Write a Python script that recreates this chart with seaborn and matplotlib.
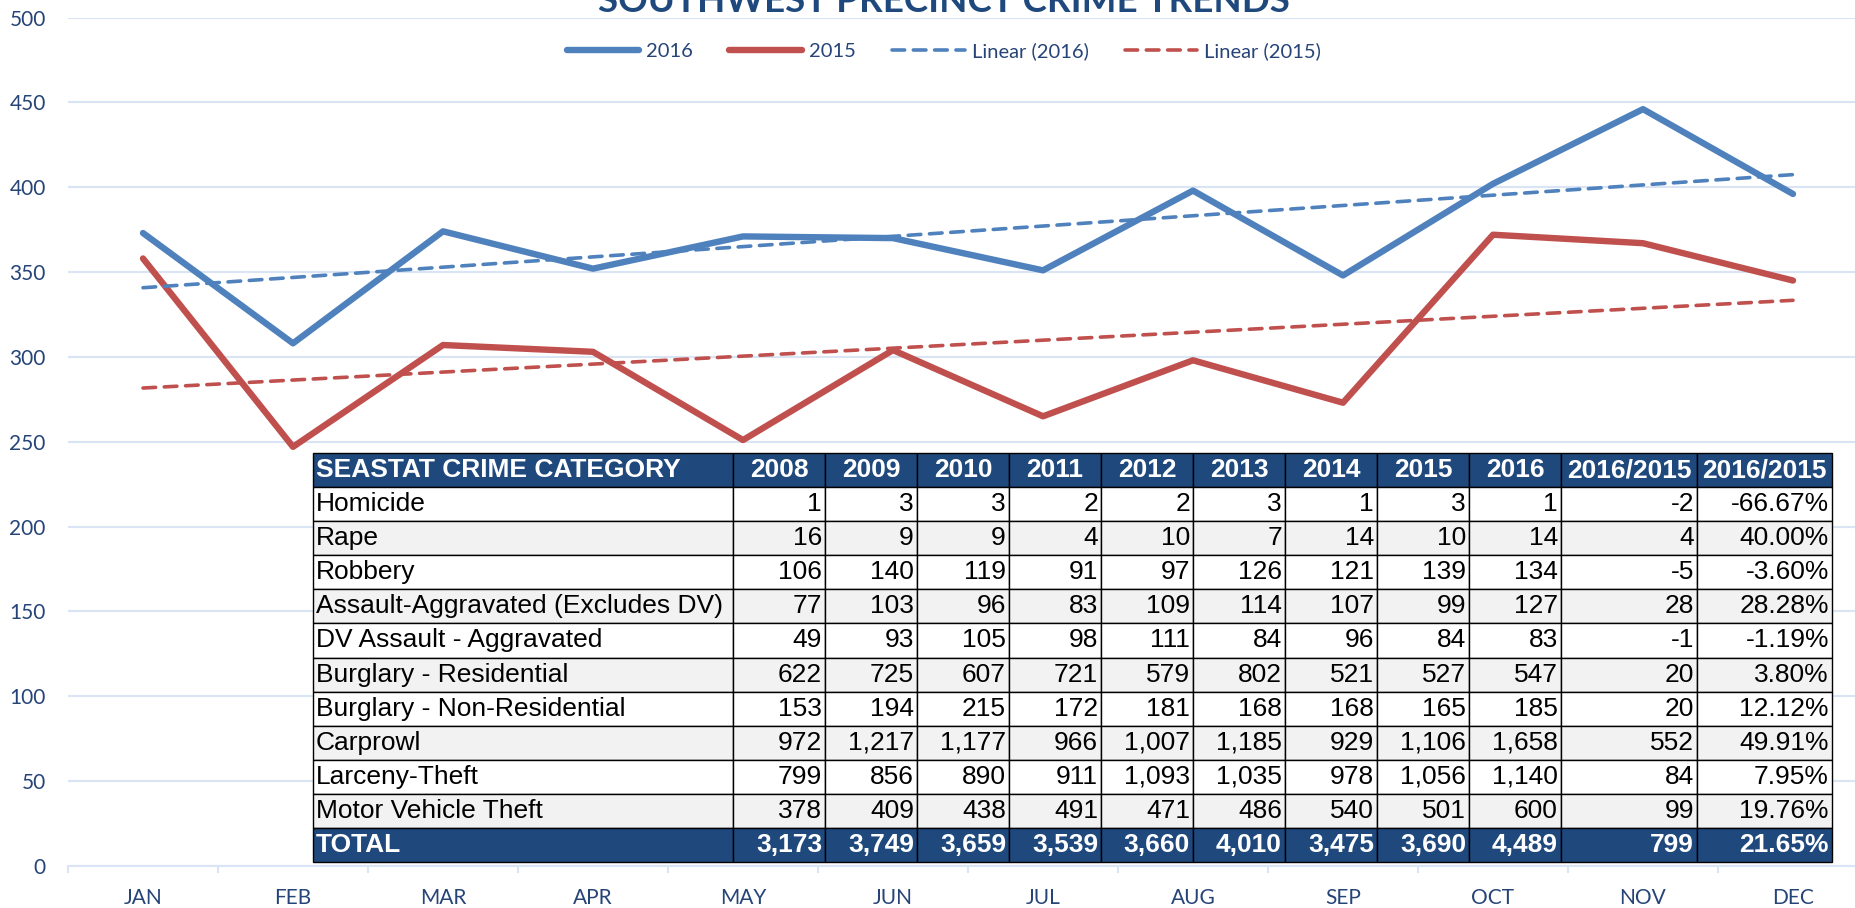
import numpy as np
import pandas as pd
import matplotlib.pyplot as plt
import seaborn as sns

# --- chart data ---
MONTHS = ["JAN", "FEB", "MAR", "APR", "MAY", "JUN", "JUL", "AUG", "SEP", "OCT", "NOV", "DEC"]
CRIMES_2016 = [373, 308, 374, 352, 371, 370, 351, 398, 348, 402, 446, 396]
CRIMES_2015 = [358, 247, 307, 303, 251, 304, 265, 298, 273, 372, 367, 345]

# --- table data ---
TABLE_YEARS = ["2008", "2009", "2010", "2011", "2012", "2013", "2014", "2015", "2016"]
TABLE_CATEGORIES = [
    "Homicide", "Rape", "Robbery", "Assault-Aggravated (Excludes DV)",
    "DV Assault - Aggravated", "Burglary - Residential", "Burglary - Non-Residential",
    "Carprowl", "Larceny-Theft", "Motor Vehicle Theft",
]
TABLE_COUNTS = [
    [1, 3, 3, 2, 2, 3, 1, 3, 1],
    [16, 9, 9, 4, 10, 7, 14, 10, 14],
    [106, 140, 119, 91, 97, 126, 121, 139, 134],
    [77, 103, 96, 83, 109, 114, 107, 99, 127],
    [49, 93, 105, 98, 111, 84, 96, 84, 83],
    [622, 725, 607, 721, 579, 802, 521, 527, 547],
    [153, 194, 215, 172, 181, 168, 168, 165, 185],
    [972, 1217, 1177, 966, 1007, 1185, 929, 1106, 1658],
    [799, 856, 890, 911, 1093, 1035, 978, 1056, 1140],
    [378, 409, 438, 491, 471, 486, 540, 501, 600],
]

BLUE = "#4F81BD"
RED = "#C0504D"
NAVY = "#1F497D"
TEXT = "#264478"
GRID = "#D9E4F5"

W, H = 1856, 908

sns.set_theme(style="white")
plt.rcParams["font.family"] = ["Lato", "DejaVu Sans"]

fig = plt.figure(figsize=(W / 100, H / 100), dpi=100)
ax = fig.add_axes([68 / W, 1 - 866 / H, 1800 / W, 848.5 / H])

x = np.arange(len(MONTHS))
sns.lineplot(x=x, y=CRIMES_2016, color=BLUE, lw=4.6, solid_capstyle="round",
             label="2016", ax=ax)
sns.lineplot(x=x, y=CRIMES_2015, color=RED, lw=4.6, solid_capstyle="round",
             label="2015", ax=ax)
sns.regplot(x=x, y=CRIMES_2016, scatter=False, ci=None, color=BLUE, label="Linear (2016)",
            line_kws=dict(lw=2.6, dashes=(3.5, 2.4), dash_capstyle="round"), ax=ax)
sns.regplot(x=x, y=CRIMES_2015, scatter=False, ci=None, color=RED, label="Linear (2015)",
            line_kws=dict(lw=2.6, dashes=(3.5, 2.4), dash_capstyle="round"), ax=ax)

ax.set_xlim(-0.5, 11.5)
ax.set_ylim(0, 500)
ax.set_yticks(range(0, 501, 50))
ax.set_xticks(x, MONTHS)
ax.set_xticks(np.arange(-0.5, 12, 1), minor=True)
ax.tick_params(axis="both", which="major", length=0, labelsize=15, labelcolor=TEXT)
ax.tick_params(axis="x", which="major", pad=16)
ax.tick_params(axis="y", which="major", pad=16)
ax.tick_params(axis="x", which="minor", length=5, width=1.5, color=GRID, bottom=True)
ax.set_xlabel("")
ax.set_ylabel("")
ax.yaxis.grid(True, color=GRID, lw=1.5)
ax.xaxis.grid(False)
ax.set_axisbelow(True)
for side in ["top", "right", "left"]:
    ax.spines[side].set_visible(False)
ax.spines["bottom"].set_color(GRID)
ax.spines["bottom"].set_linewidth(1.5)

handles, labels = ax.get_legend_handles_labels()
ax.legend(handles, labels, loc="center", bbox_to_anchor=(0.5086, 1 - 51 / H),
          bbox_transform=fig.transFigure, ncol=4, frameon=False, fontsize=14.5,
          labelcolor=TEXT, handlelength=3.6, handletextpad=0.35, columnspacing=1.8)

fig.text(0.5086, 1 - 12 / H, "SOUTHWEST PRECINCT CRIME TRENDS", ha="center", va="baseline",
         fontsize=26.5, fontweight="bold", color=NAVY)

# --- table of yearly counts ---
counts = np.array(TABLE_COUNTS)
totals = counts.sum(axis=0)
header = ["SEASTAT CRIME CATEGORY"] + TABLE_YEARS + ["2016/2015", "2016/2015"]
rows = [header]
for name, vals in zip(TABLE_CATEGORIES + ["TOTAL"], list(counts) + [totals]):
    diff = vals[-1] - vals[-2]
    pct = diff / vals[-2] * 100
    rows.append([name] + [f"{v:,}" for v in vals] + [f"{diff:,}", f"{pct:.2f}%"])

col_px = [420] + [92] * 9 + [136, 135]
tab_ax = fig.add_axes([313 / W, 1 - 862 / H, (1832 - 313) / W, 409 / H])
tab_ax.set_axis_off()
tbl = tab_ax.table(cellText=rows, colWidths=list(np.array(col_px) / sum(col_px)),
                   cellLoc="right", bbox=[0, 0, 1, 1])
tbl.auto_set_font_size(False)
n_rows = len(rows)
for (r, c), cell in tbl.get_celld().items():
    cell.set_edgecolor("black")
    cell.set_linewidth(1.0)
    cell.PAD = 3 / col_px[c]
    txt = cell.get_text()
    txt.set_fontfamily(["Liberation Sans", "DejaVu Sans"])
    txt.set_fontsize(19)
    if c == 0:
        txt.set_ha("left")
    if r == 0 or r == n_rows - 1:
        cell.set_facecolor(NAVY)
        txt.set_color("white")
        txt.set_fontweight("bold")
        if r == 0 and c > 0:
            txt.set_ha("center")
    else:
        cell.set_facecolor("#F2F2F2" if r % 2 == 0 else "white")
        txt.set_color("black")

fig.savefig("out.png", dpi=100)
